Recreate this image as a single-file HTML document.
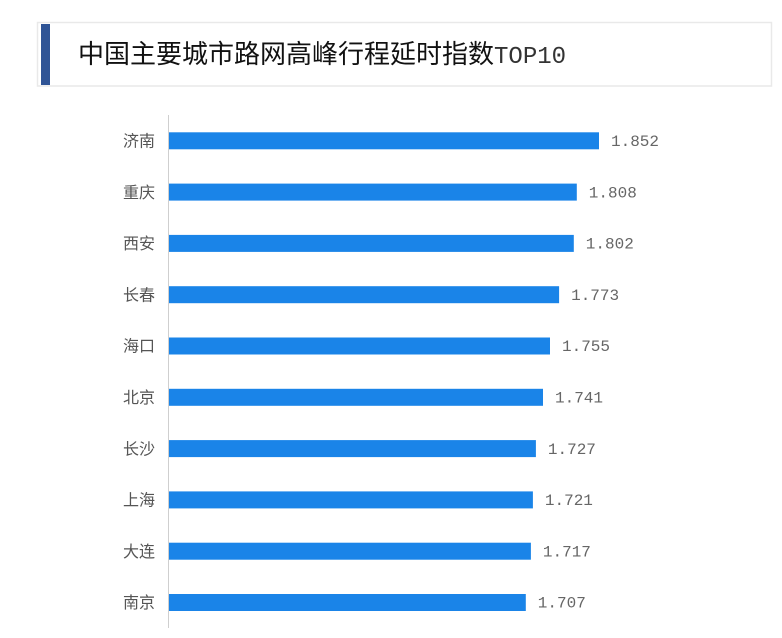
<!DOCTYPE html>
<html>
<head>
<meta charset="utf-8">
<style>
html,body{margin:0;padding:0;background:#fff;}
svg{display:block;}
</style>
</head>
<body>
<svg width="782" height="638" viewBox="0 0 782 638" xmlns="http://www.w3.org/2000/svg">
  <rect x="0" y="0" width="782" height="638" fill="#fff"/>
  <!-- title box -->
  <rect x="37.5" y="22.5" width="734" height="63.5" fill="#fff" stroke="#e9e9e9" stroke-width="1.5"/>
  <rect x="41" y="24" width="9" height="61" fill="#2f5496"/>
  <text x="78" y="63" font-family="'Liberation Sans','Noto Sans CJK SC',sans-serif" font-size="26" fill="#111">中国主要城市路网高峰行程延时指数<tspan font-family="'Liberation Mono',monospace" font-size="24" fill="#333">TOP10</tspan></text>
  <!-- axis line -->
  <line x1="168.5" y1="115" x2="168.5" y2="628" stroke="#cfcfcf" stroke-width="1"/>
  <g font-family="'Liberation Sans','Noto Sans CJK SC',sans-serif" font-size="16" fill="#555" text-anchor="end">
    <text x="155" y="146.5">济南</text>
    <text x="155" y="197.8">重庆</text>
    <text x="155" y="249.1">西安</text>
    <text x="155" y="300.4">长春</text>
    <text x="155" y="351.7">海口</text>
    <text x="155" y="403.0">北京</text>
    <text x="155" y="454.3">长沙</text>
    <text x="155" y="505.6">上海</text>
    <text x="155" y="556.9">大连</text>
    <text x="155" y="608.2">南京</text>
  </g>
  <g fill="#1a84e8">
    <rect x="169" y="132.3" width="430" height="17"/>
    <rect x="169" y="183.6" width="407.8" height="17"/>
    <rect x="169" y="234.9" width="404.8" height="17"/>
    <rect x="169" y="286.2" width="390.1" height="17"/>
    <rect x="169" y="337.5" width="381.0" height="17"/>
    <rect x="169" y="388.8" width="374.0" height="17"/>
    <rect x="169" y="440.1" width="366.9" height="17"/>
    <rect x="169" y="491.4" width="363.9" height="17"/>
    <rect x="169" y="542.7" width="361.9" height="17"/>
    <rect x="169" y="594.0" width="356.8" height="17"/>
  </g>
  <g font-family="'Liberation Mono',monospace" font-size="16" fill="#666">
    <text x="611" y="146">1.852</text>
    <text x="588.8" y="197.3">1.808</text>
    <text x="585.8" y="248.6">1.802</text>
    <text x="571.1" y="299.9">1.773</text>
    <text x="562.0" y="351.2">1.755</text>
    <text x="555.0" y="402.5">1.741</text>
    <text x="547.9" y="453.8">1.727</text>
    <text x="544.9" y="505.1">1.721</text>
    <text x="542.9" y="556.4">1.717</text>
    <text x="537.8" y="607.7">1.707</text>
  </g>
</svg>
</body>
</html>
